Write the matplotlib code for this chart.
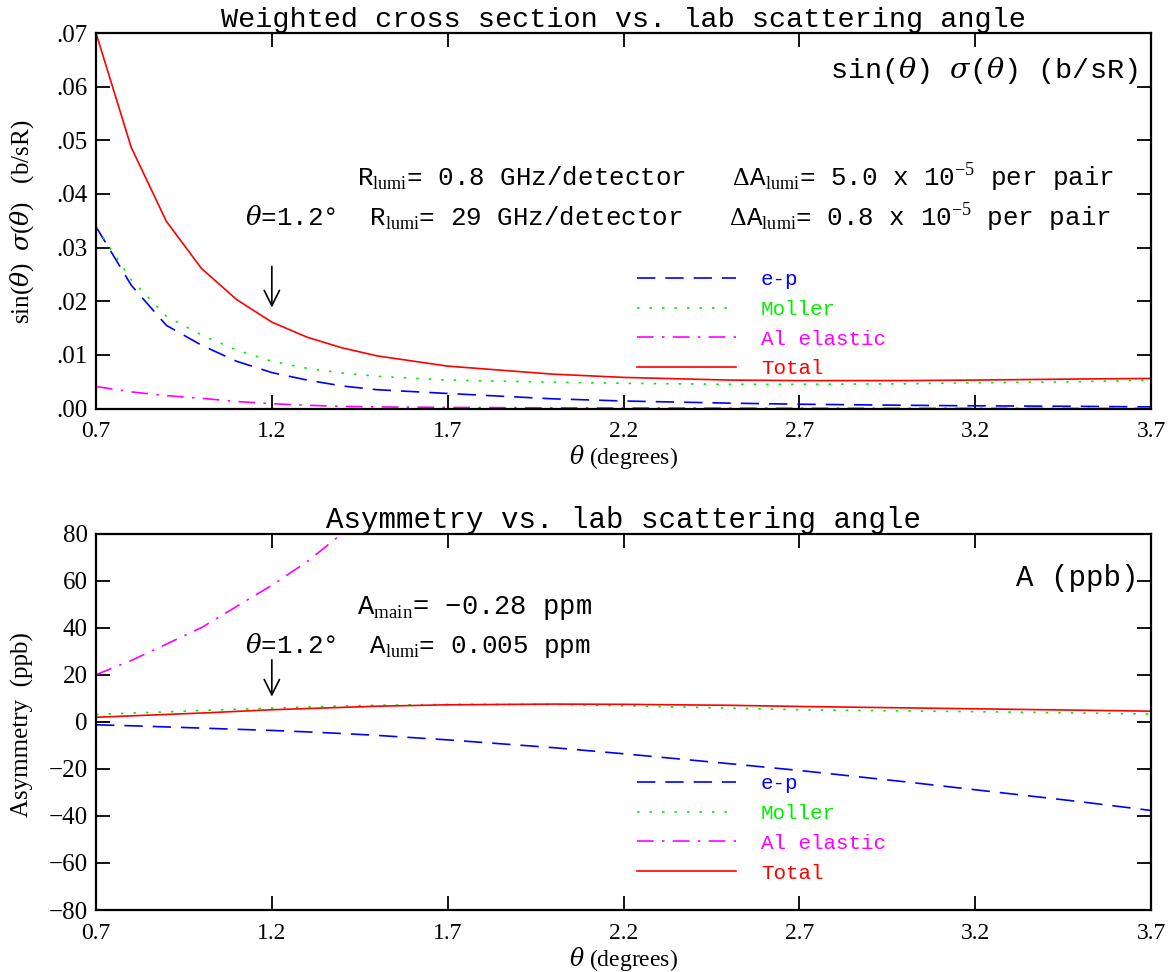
import numpy as np
import matplotlib
matplotlib.use("Agg")
import matplotlib.pyplot as plt
from matplotlib.ticker import FuncFormatter

plt.rcParams['font.family'] = ['Liberation Mono', 'DejaVu Sans']
plt.rcParams['mathtext.fontset'] = 'custom'
plt.rcParams['mathtext.rm'] = 'Liberation Serif'
plt.rcParams['mathtext.it'] = 'DejaVu Serif:italic'
plt.rcParams['mathtext.bf'] = 'Liberation Serif:bold'

# weighted cross section, sin(theta)*sigma(theta) in b/sR
theta = [0.7, 0.8, 0.9, 1.0, 1.1, 1.2, 1.3, 1.4, 1.5, 1.7, 2.0, 2.2, 2.5, 2.7, 3.0, 3.2, 3.5, 3.7]
xs_ep = [0.0339, 0.0230, 0.0155, 0.0118, 0.0088, 0.0067, 0.0053, 0.0042, 0.0035, 0.0028,
         0.0018, 0.0014, 0.0010, 0.0008, 0.0006, 0.0005, 0.0004, 0.0003]
xs_moller = [0.0339, 0.0240, 0.0172, 0.0137, 0.0109, 0.0088, 0.0075, 0.0066, 0.0060, 0.0053,
             0.0049, 0.0047, 0.0045, 0.0045, 0.0046, 0.0048, 0.0050, 0.0053]
xs_al = [0.0041, 0.0031, 0.0024, 0.0019, 0.0013, 0.0009, 0.0006, 0.0004, 0.0003, 0.0002,
         0.00012, 0.0001, 0.00007, 0.00005, 0.00004, 0.00003, 0.00002, 0.00002]
xs_total = [0.0700, 0.0487, 0.0349, 0.0261, 0.0203, 0.0161, 0.0133, 0.0113, 0.0098, 0.0079,
            0.0064, 0.0058, 0.0053, 0.0052, 0.0052, 0.0053, 0.0055, 0.0056]

# asymmetry in ppb
a_ep = [-1.3, -1.7, -2.2, -2.7, -3.2, -3.7, -4.3, -5.0, -5.8, -7.7,
        -11.0, -13.6, -17.8, -20.7, -25.5, -28.9, -34.0, -37.7]
a_moller = [3.1, 3.7, 4.2, 4.8, 5.3, 5.8, 6.3, 6.7, 7.0, 7.4,
            7.4, 6.8, 5.8, 5.1, 4.6, 4.3, 3.7, 3.3]
a_total = [1.9, 2.5, 3.1, 3.7, 4.4, 5.1, 5.6, 6.1, 6.6, 7.2,
           7.5, 7.4, 7.0, 6.5, 5.9, 5.5, 4.9, 4.5]
theta_al = [0.7, 0.8, 0.9, 1.0, 1.1, 1.2, 1.3, 1.4, 1.5]
a_al = [20, 26, 33, 40, 49, 58, 68, 80, 92]

labels = ['e-p', 'Moller', 'Al elastic', 'Total']
colors = ['#0000ff', '#00ee00', '#ff00ff', '#ff0000']
xticks = [0.7, 1.2, 1.7, 2.2, 2.7, 3.2, 3.7]

W, H = 1174, 972
fig = plt.figure(figsize=(W / 100, H / 100), dpi=100)
ax1 = fig.add_axes([96 / W, 1 - 408.5 / H, 1055 / W, 375.5 / H])
ax2 = fig.add_axes([96 / W, 1 - 910 / H, 1055 / W, 376.5 / H])

styles = [dict(dashes=(11, 6)), dict(dashes=(1.5, 6)), dict(dashes=(10, 5, 1.5, 5)), dict()]


def draw(ax, series, xs_list):
    for x, y, lab, c, st in zip(xs_list, series, labels, colors, styles):
        ax.plot(x, y, color=c, lw=1.2, label=lab, **st)


draw(ax1, [xs_ep, xs_moller, xs_al, xs_total], [theta] * 4)
draw(ax2, [a_ep, a_moller, a_al, a_total], [theta, theta, theta_al, theta])

for ax in (ax1, ax2):
    ax.set_xlim(0.7, 3.7)
    ax.set_xticks(xticks)
    ax.set_xticklabels([str(t) for t in xticks])
    ax.tick_params(direction='in', length=10, width=1.3, top=True, right=True,
                   labelsize=17, pad=9)
    for s in ax.spines.values():
        s.set_linewidth(1.6)
    ax.set_xlabel(r'$\theta$ (degrees)', fontsize=17, family='Liberation Serif', labelpad=1)
    ax.legend(loc='upper left', frameon=False, fontsize=15, handlelength=4.75,
              handletextpad=1.2, labelspacing=0.52, borderpad=0, borderaxespad=0,
              labelcolor='linecolor',
              bbox_to_anchor=(637 / W, 1 - (270 if ax is ax1 else 774) / H),
              bbox_transform=fig.transFigure)

ax1.set_ylim(0, 0.07)
ax1.set_yticks(np.arange(0, 0.0701, 0.01))
ax1.yaxis.set_major_formatter(FuncFormatter(lambda v, p: f'{v:.2f}'.lstrip('0')))
ax1.tick_params(axis='y', pad=6, labelsize=18)

ax2.set_ylim(-80, 80)
ax2.set_yticks(np.arange(-80, 81, 20))
ax2.tick_params(axis='y', pad=6, labelsize=18)

for ax in (ax1, ax2):
    for lab in ax.get_xticklabels() + ax.get_yticklabels():
        lab.set_family('Liberation Serif')

ax1.set_title('Weighted cross section vs. lab scattering angle', fontsize=20.5, pad=4)
ax2.set_title('Asymmetry vs. lab scattering angle', fontsize=21, pad=4)

fig.text(22 / W, 1 - 222 / H, r'sin($\theta$)  $\sigma$($\theta$)   (b/sR)', rotation=90,
         ha='center', va='center', fontsize=18, family='Liberation Serif')
fig.text(22 / W, 1 - 725 / H, 'Asymmetry  (ppb)', rotation=90,
         ha='center', va='center', fontsize=18, family='Liberation Serif')

fig.text(1138 / W, 1 - 70 / H, r'sin($\theta$) $\sigma$($\theta$) (b/sR)',
         ha='right', va='center', fontsize=20.5)
fig.text(1138 / W, 1 - 578 / H, 'A (ppb)', ha='right', va='center', fontsize=21)

fig.text(357 / W, 1 - 178 / H,
         r'R$_{\rm lumi}$= 0.8 GHz/detector   $\Delta$A$_{\rm lumi}$= 5.0 x 10$^{-5}$ per pair',
         ha='left', va='center', fontsize=18.6)
fig.text(245 / W, 1 - 218 / H,
         r'$\theta$=1.2°  R$_{\rm lumi}$= 29 GHz/detector   $\Delta$A$_{\rm lumi}$= 0.8 x 10$^{-5}$ per pair',
         ha='left', va='center', fontsize=18.6)
fig.text(357 / W, 1 - 608 / H, r'A$_{\rm main}$= −0.28 ppm', ha='left', va='center', fontsize=19.5)
fig.text(245 / W, 1 - 645 / H, r'$\theta$=1.2°  A$_{\rm lumi}$= 0.005 ppm',
         ha='left', va='center', fontsize=18.6)

arrow = dict(arrowstyle='->,head_length=1.1,head_width=0.55', color='black', lw=1.2)
ax1.annotate('', xy=(1.2, 0.0183), xytext=(1.2, 0.0270), arrowprops=arrow)
ax2.annotate('', xy=(1.2, 9.5), xytext=(1.2, 27.5), arrowprops=arrow)

fig.savefig('out.png', dpi=100)
